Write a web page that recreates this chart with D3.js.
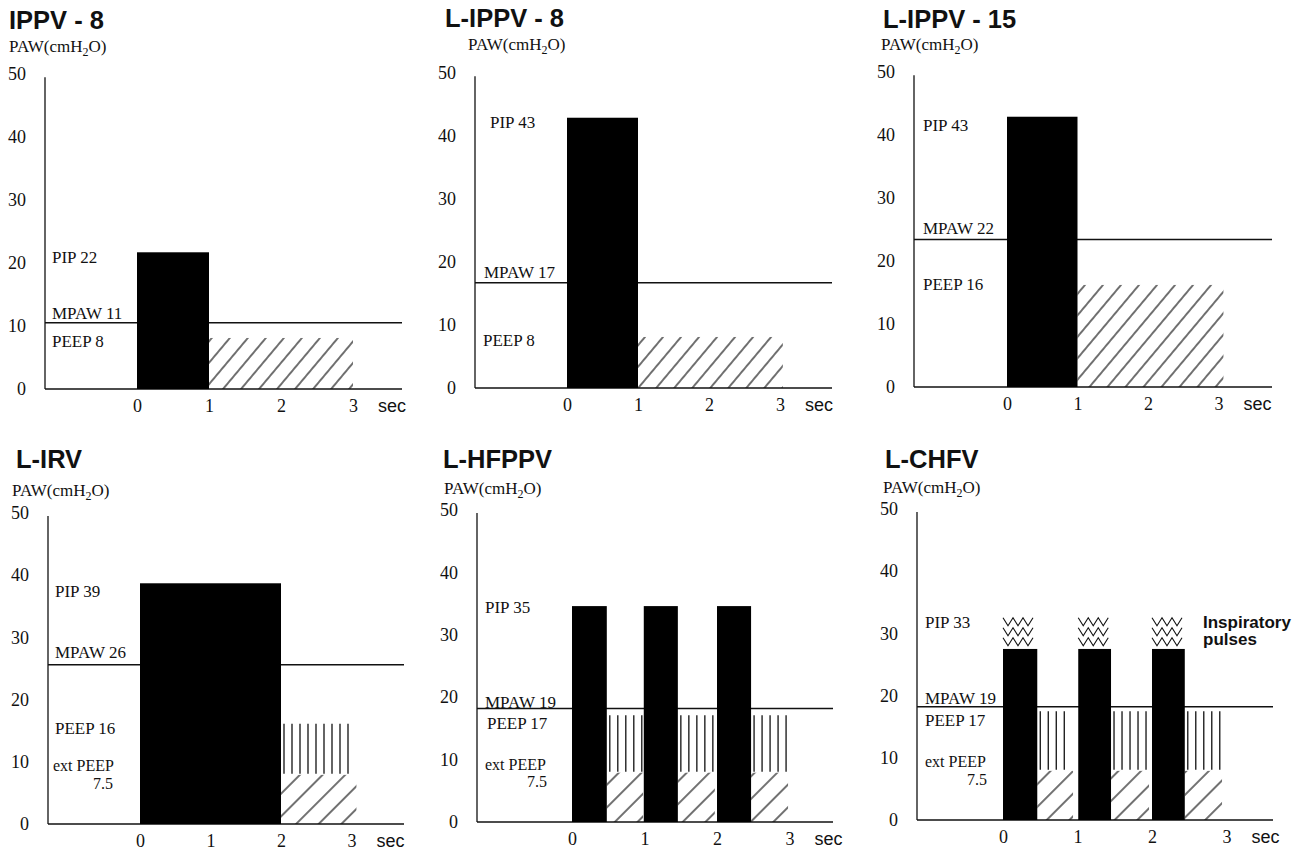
<!DOCTYPE html>
<html>
<head>
<meta charset="utf-8">
<script src="https://cdn.jsdelivr.net/npm/d3@7"></script>
<style>
  body { margin: 0; background: #fff; }
  .serif { font-family: "Liberation Serif", "Times New Roman", serif; fill: #111; }
  .sans { font-family: "Liberation Sans", Arial, sans-serif; fill: #111; }
</style>
</head>
<body>
<div id="chart"></div>
<script>
// values
var titles = ["IPPV - 8", "L-IPPV - 8", "L-IPPV - 15", "L-IRV", "L-HFPPV", "L-CHFV"];
var pipLabels = [22, 43, 43, 39, 35, 33];
var mpawLabels = [11, 17, 22, 26, 19, 19];
var peepLabels = [8, 8, 16, 16, 17, 17];
var extPeepLabel = "7.5";

// levels as drawn (cmH2O)
var pipLevel = [21.7, 42.9, 42.9, 38.7, 34.6, 27.5];
var pulseTop = [null, null, null, null, null, 33];
var mpawLevel = [10.5, 16.7, 23.4, 25.6, 18.2, 18.2];
var peepLevel = [8.1, 8.1, 16.2, 16.1, 17.1, 17.5];
var extPeepLevel = [null, null, null, 7.9, 7.9, 7.9];

// time intervals (sec)
var inspiration = [
  [[0, 1]], [[0, 1]], [[0, 1]], [[0, 2]],
  [[0, 0.48], [0.99, 1.46], [2, 2.47]],
  [[0, 0.46], [1.01, 1.45], [2, 2.44]]
];
var expiration = [
  [[1, 3]], [[1, 3.04]], [[1, 3.07]], [[2, 3.07]],
  [[0.48, 0.98], [1.46, 1.97], [2.47, 2.98]],
  [[0.46, 0.94], [1.45, 1.96], [2.44, 2.94]]
];

var yTicks = [0, 10, 20, 30, 40, 50];
var xTicks = [0, 1, 2, 3];

// panel placement
var layout = [
  {axisX: 45, x0: 137, spp: 72, right: 402, y0: 389, y50: 74, titleX: 9, titleY: 29, pawX: 9, pawY: 52, diag: "diagA",
   pip: [7, 20.95], mpaw: [7, 12.06], peep: [7, 7.6]},
  {axisX: 475, x0: 567, spp: 71, right: 832, y0: 388, y50: 73, titleX: 445, titleY: 27, pawX: 468, pawY: 50, diag: "diagA",
   pip: [15, 42.2], mpaw: [9, 18.4], peep: [8, 7.6]},
  {axisX: 914, x0: 1007, spp: 70.5, right: 1272, y0: 387, y50: 72, titleX: 883, titleY: 28, pawX: 881, pawY: 50, diag: "diagA",
   pip: [9, 41.6], mpaw: [9, 25.2], peep: [9, 16.3]},
  {axisX: 48, x0: 140, spp: 70.5, right: 404, y0: 824, y50: 513, titleX: 16, titleY: 468, pawX: 12, pawY: 496, diag: "diagB",
   pip: [7, 37.5], mpaw: [7, 27.7], peep: [7, 15.4], ext: [5, 9.4], ext2: [65, 6.6]},
  {axisX: 477, x0: 572, spp: 72.5, right: 833, y0: 822, y50: 510, titleX: 443, titleY: 468, pawX: 444, pawY: 494, diag: "diagB",
   pip: [8, 34.5], mpaw: [8, 19.2], peep: [10, 15.9], ext: [8, 9.3], ext2: [70, 6.5]},
  {axisX: 917, x0: 1003, spp: 74.5, right: 1273, y0: 820, y50: 509, titleX: 885, titleY: 468, pawX: 883, pawY: 493, diag: "diagB",
   pip: [8, 31.8], mpaw: [8, 19.6], peep: [8, 16.1], ext: [8, 9.5], ext2: [70, 6.6]}
];

var svg = d3.select("#chart").append("svg")
  .attr("width", 1301)
  .attr("height", 850);

svg.append("rect").attr("width", 1301).attr("height", 850).attr("fill", "#fff");

// hatch patterns
var defs = svg.append("defs");
function diagPattern(id, spacing, angle) {
  var p = defs.append("pattern")
    .attr("id", id)
    .attr("patternUnits", "userSpaceOnUse")
    .attr("width", spacing)
    .attr("height", spacing)
    .attr("patternTransform", "rotate(" + angle + ")");
  p.append("line")
    .attr("x1", spacing / 2).attr("x2", spacing / 2)
    .attr("y1", 0).attr("y2", spacing)
    .attr("stroke", "#111")
    .attr("stroke-width", 1.2);
}
diagPattern("diagA", 13.8, 40);
diagPattern("diagB", 16, 45);

layout.forEach(function(L, i) {
  var g = svg.append("g");

  var x = d3.scaleLinear().domain([0, 3]).range([L.x0, L.x0 + 3 * L.spp]);
  var y = d3.scaleLinear().domain([0, 50]).range([L.y0, L.y50]);

  // title + unit
  g.append("text")
    .attr("class", "sans")
    .attr("x", L.titleX)
    .attr("y", L.titleY)
    .attr("font-size", "25.5px")
    .attr("font-weight", "bold")
    .text(titles[i]);

  var paw = g.append("text")
    .attr("class", "serif")
    .attr("x", L.pawX)
    .attr("y", L.pawY)
    .attr("font-size", "17px");
  paw.append("tspan").text("PAW(cmH");
  paw.append("tspan").attr("font-size", "12px").attr("dy", 4).text("2");
  paw.append("tspan").attr("dy", -4).text("O)");

  // y axis
  var yAxis = d3.axisLeft(y).tickValues(yTicks).tickSize(0).tickSizeOuter(0).tickPadding(19);
  var ya = g.append("g")
    .attr("transform", "translate(" + L.axisX + ",0)")
    .call(yAxis);
  ya.select(".domain").remove();
  ya.selectAll("text")
    .attr("class", "serif")
    .attr("font-size", "18px")
    .attr("fill", "#111");
  g.append("line")
    .attr("x1", L.axisX).attr("x2", L.axisX)
    .attr("y1", y(49.5)).attr("y2", y(0))
    .attr("stroke", "#111").attr("stroke-width", 1.3);

  // x axis
  var xAxis = d3.axisBottom(x).tickValues(xTicks).tickFormat(d3.format("d"))
    .tickSize(0).tickPadding(10);
  var xa = g.append("g")
    .attr("transform", "translate(0," + L.y0 + ")")
    .call(xAxis);
  xa.select(".domain").remove();
  xa.selectAll("text")
    .attr("class", "serif")
    .attr("font-size", "18px")
    .attr("fill", "#111");
  g.append("text")
    .attr("class", "sans")
    .attr("x", x(3) + 25)
    .attr("y", L.y0 + 23)
    .attr("font-size", "18px")
    .text("sec");

  // expiration hatching
  var ext = extPeepLevel[i];
  var diagTop = ext != null ? ext : peepLevel[i];
  g.selectAll("rect.diag")
    .data(expiration[i])
    .enter()
    .append("rect")
    .attr("class", "diag")
    .attr("x", d => x(d[0]))
    .attr("width", d => x(d[1]) - x(d[0]))
    .attr("y", y(diagTop))
    .attr("height", y(0) - y(diagTop))
    .attr("fill", "url(#" + L.diag + ")");

  if (ext != null) {
    expiration[i].forEach(function(d) {
      var xs = d3.range(x(d[0]) + 3, x(d[1]) - 1, 8);
      g.selectAll(null)
        .data(xs)
        .enter()
        .append("line")
        .attr("x1", v => v).attr("x2", v => v)
        .attr("y1", y(peepLevel[i]))
        .attr("y2", y(ext) - 1)
        .attr("stroke", "#111")
        .attr("stroke-width", 1.3);
    });
  }

  // baseline and mean airway pressure
  g.append("line")
    .attr("x1", L.axisX).attr("x2", L.right)
    .attr("y1", y(0)).attr("y2", y(0))
    .attr("stroke", "#111").attr("stroke-width", 1.6);
  g.append("line")
    .attr("x1", L.axisX).attr("x2", L.right)
    .attr("y1", y(mpawLevel[i])).attr("y2", y(mpawLevel[i]))
    .attr("stroke", "#111").attr("stroke-width", 1.5);

  // inspiratory pulses (zigzag) above the bars
  if (pulseTop[i] != null) {
    var zig = d3.line();
    inspiration[i].forEach(function(d) {
      for (var r = 0; r < 3; r++) {
        var top = y(pulseTop[i]) + 3 + r * 10;
        var pts = [];
        var k = 0;
        for (var px = x(d[0]); px <= x(d[1]) + 0.5; px += 5, k++) {
          pts.push([px, k % 2 === 0 ? top : top + 8]);
        }
        g.append("path")
          .attr("d", zig(pts))
          .attr("fill", "none")
          .attr("stroke", "#111")
          .attr("stroke-width", 1.1);
      }
    });
  }

  // inspiration bars
  g.selectAll("rect.bar")
    .data(inspiration[i])
    .enter()
    .append("rect")
    .attr("class", "bar")
    .attr("x", d => x(d[0]))
    .attr("width", d => x(d[1]) - x(d[0]))
    .attr("y", y(pipLevel[i]))
    .attr("height", y(0) - y(pipLevel[i]))
    .attr("fill", "#000");

  // annotations
  var notes = [
    ["PIP " + pipLabels[i], L.pip, "start", 17],
    ["MPAW " + mpawLabels[i], L.mpaw, "start", 17],
    ["PEEP " + peepLabels[i], L.peep, "start", 17]
  ];
  if (L.ext) {
    notes.push(["ext PEEP", L.ext, "start", 16]);
    notes.push([extPeepLabel, L.ext2, "end", 16]);
  }
  g.selectAll("text.note")
    .data(notes)
    .enter()
    .append("text")
    .attr("class", "serif note")
    .attr("x", d => L.axisX + d[1][0])
    .attr("y", d => y(d[1][1]))
    .attr("dy", "0.35em")
    .attr("text-anchor", d => d[2])
    .attr("font-size", d => d[3] + "px")
    .text(d => d[0]);

  if (pulseTop[i] != null) {
    g.append("text")
      .attr("class", "sans")
      .attr("x", 1203)
      .attr("y", 628)
      .attr("font-size", "17px")
      .attr("font-weight", "bold")
      .text("Inspiratory");
    g.append("text")
      .attr("class", "sans")
      .attr("x", 1203)
      .attr("y", 645)
      .attr("font-size", "17px")
      .attr("font-weight", "bold")
      .text("pulses");
  }
});
</script>
</body>
</html>
